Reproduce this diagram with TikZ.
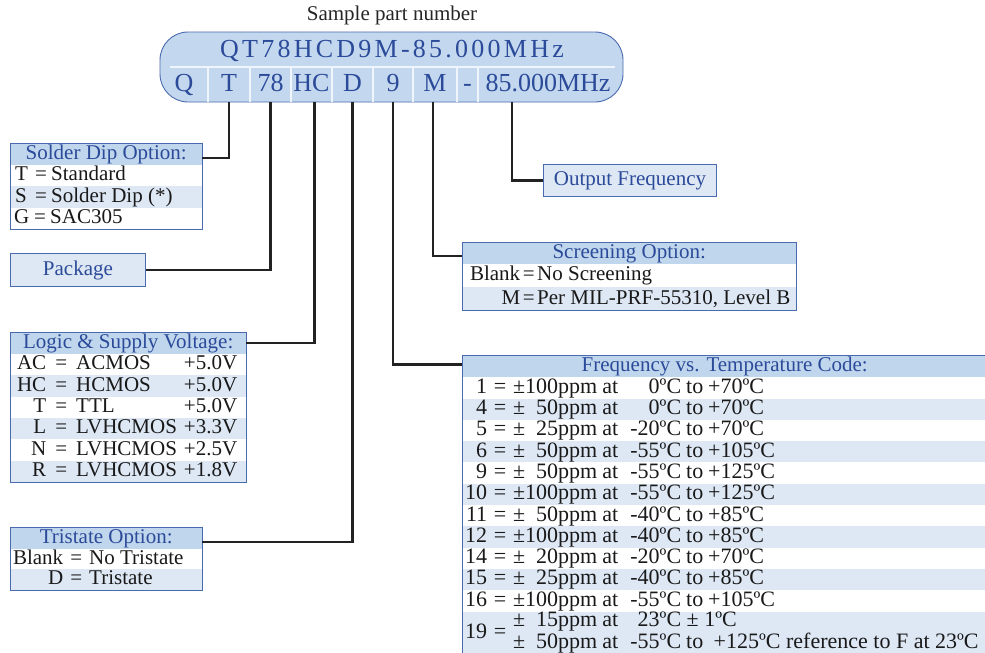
\documentclass[tikz,border=0pt]{standalone}
\usepackage{fontspec}
\setmainfont{Liberation Serif}
\usepackage{xcolor}
\usepackage{tikz}
\usetikzlibrary{positioning}

\definecolor{hdrblue}{HTML}{C0D6ED}
\definecolor{rowblue}{HTML}{DEE8F5}
\definecolor{partblue}{HTML}{C3D8EE}
\definecolor{edgeblue}{HTML}{4A6AAE}
\definecolor{txtblue}{HTML}{2B4A99}
\definecolor{wirecol}{HTML}{222222}

\newcommand{\bodysize}{\fontsize{21}{21}\selectfont}
\newcommand{\ftsize}{\fontsize{22}{21}\selectfont}
\newcommand{\partsize}{\fontsize{26}{26}\selectfont}
\newcommand{\sdrow}[2]{\hspace{5pt}\makebox[20pt][l]{#1}\makebox[16pt][l]{=}#2}
\newcommand{\ftcols}[4]{\makebox[13pt][l]{±}\makebox[71pt][r]{#1ppm}\makebox[26pt]{at}\makebox[58pt][r]{#2ºC}\makebox[27pt]{#3}#4}
\newcommand{\ftrow}[4]{\makebox[25pt][r]{#1}\makebox[26pt]{=}\ftcols{#2}{#3}{to}{#4ºC}}

\tikzset{
  tab/.style={inner sep=0pt, anchor=north west, text=black!90},
  rowa/.style={tab, fill=white, minimum height=21.5pt, text height=15pt, text depth=4.5pt},
  rowb/.style={rowa, fill=rowblue},
  hdr/.style={rowa, fill=hdrblue, text=txtblue},
  boxline/.style={draw=edgeblue, line width=0.9pt},
  wire/.style={draw=wirecol, line width=2.8pt},
  pcell/.style={text=txtblue, inner sep=0pt, anchor=north, minimum height=35pt, text height=16pt, text depth=3pt, font=\partsize},
  sepline/.style={draw=white!75!partblue, line width=1.5pt},
}

\begin{document}
\begin{tikzpicture}[x=1pt, y=-1pt, font=\bodysize]
  \useasboundingbox (0,0) rectangle (985,653);

  % Part number
  \node[text=black!85, anchor=base] (label) at (392,20) {Sample part number};
  \draw[fill=partblue, draw=edgeblue, line width=0.9pt, rounded corners=28pt] (160,32) rectangle (623,102);
  \node[text=txtblue, anchor=base, font=\partsize\addfontfeature{LetterSpace=12.5}] (pn) at (392,57) {QT78HCD9M-85.000MHz};
  \foreach \t/\a/\b [count=\k] in {Q/160/208, T/208/250, 78/250/291, HC/291/332, D/332/373, 9/373/413, M/413/457, -/457/478, 85.000MHz/478/618}
    \node[pcell, minimum width={\b-\a}] (c\k) at ({(\a+\b)/2},67) {\t};
  \draw[sepline] ([xshift=10pt]c1.north west) -- ([xshift=-3pt]c9.north east);
  \foreach \k in {1,...,8}
    \draw[sepline] (c\k.north east) -- (c\k.south east);

  % Solder dip
  \node[hdr, minimum width=192pt] (sdHead) at (10,143) {Solder Dip Option:};
  \node[rowa] (sd1) at (10,164.5) {\makebox[192pt][l]{\sdrow{T}{Standard}}};
  \node[rowb] (sd2) at (10,186) {\makebox[192pt][l]{\sdrow{S}{Solder Dip (*)}}};
  \node[rowa] (sd3) at (10,207.5) {\makebox[192pt][l]{\hspace{-1pt}\sdrow{G}{SAC305}}};
  \draw[boxline] (sdHead.north west) rectangle (sd3.south east);

  % Package
  \node[tab, fill=rowblue, text=txtblue, boxline, minimum width=135pt, minimum height=33pt, text height=15pt, text depth=4.5pt] (pkg) at (10,253) {Package};

  % Logic & supply
  \node[hdr, minimum width=236pt] (lgHead) at (10,332) {Logic \& Supply Voltage:};
  \foreach \c/\m/\v [count=\i] in {AC/ACMOS/+5.0V, HC/HCMOS/+5.0V, T/TTL/+5.0V, L/LVHCMOS/+3.3V, N/LVHCMOS/+2.5V, R/LVHCMOS/+1.8V} {
    \ifodd\i\relax \def\rowfill{white}\else \def\rowfill{rowblue}\fi
    \node[rowa, fill=\rowfill] (lg\i) at (10,{353.5+21.4*(\i-1)})
      {\makebox[236pt][l]{\makebox[36pt][r]{\c}\makebox[30pt]{=}\makebox[161pt][l]{\m\hfill\v}}};
  }
  \draw[boxline] (lgHead.north west) rectangle (lg6.south east);

  % Tristate
  \node[hdr, minimum width=192pt] (tsHead) at (10,527) {Tristate Option:};
  \node[rowa, minimum height=21pt] (ts1) at (10,548.5) {\makebox[192pt][l]{\makebox[53pt][r]{Blank}\makebox[26pt]{=}No Tristate}};
  \node[rowb, minimum height=21pt] (ts2) at (10,569) {\makebox[192pt][l]{\makebox[53pt][r]{D}\makebox[26pt]{=}Tristate}};
  \draw[boxline] (tsHead.north west) rectangle (ts2.south east);

  % Output frequency
  \node[tab, fill=rowblue, text=txtblue, boxline, minimum width=173pt, minimum height=32pt, text height=15pt, text depth=4.5pt] (out) at (543,164) {Output Frequency};

  % Screening
  \node[hdr, minimum width=334pt] (scHead) at (462,242) {Screening Option:};
  \node[rowa, minimum height=23.5pt] (sc1) at (462,263.5) {\makebox[334pt][l]{\makebox[58pt][r]{Blank}\makebox[17pt]{=}No Screening}};
  \node[rowb, minimum height=23.5pt] (sc2) at (462,287) {\makebox[334pt][l]{\makebox[58pt][r]{M}\makebox[17pt]{=}Per MIL-PRF-55310, Level B}};
  \draw[boxline] (scHead.north west) rectangle (sc2.south east);

  % Frequency vs temperature
  \node[hdr, minimum width=525pt, minimum height=22pt] (ftHead) at (462,355) {Frequency vs. Temperature Code:};
  \foreach \n/\p/\ta/\tb [count=\i] in {1/100/0/+70, 4/50/0/+70, 5/25/-20/+70, 6/50/-55/+105, 9/50/-55/+125, 10/100/-55/+125, 11/50/-40/+85, 12/100/-40/+85, 14/20/-20/+70, 15/25/-40/+85, 16/100/-55/+105} {
    \ifodd\i\relax \def\rowfill{white}\else \def\rowfill{rowblue}\fi
    \node[rowa, fill=\rowfill, font=\ftsize] (ft\i) at (462,{377+21.3*(\i-1)}) {\makebox[525pt][l]{\ftrow{\n}{\p}{\ta}{\tb}}};
  }
  \node[tab, fill=rowblue, minimum height=43pt, font=\ftsize] (ft12) at (462,611.3) {\makebox[525pt][l]{\makebox[25pt][r]{19}\makebox[26pt]{=}%
    \begin{tabular}{@{}l@{}}
      \ftcols{15}{23}{}{}\hspace{-27pt}\ ± 1ºC\\
      \ftcols{50}{-55}{to}{\ +125ºC reference to F at 23ºC}
    \end{tabular}}};
  \draw[boxline] (ftHead.north west) rectangle (ft12.south east);

  % Wires
  \draw[wire] (c2.south) |- ([yshift=-4pt]sdHead.east);
  \draw[wire] (c3.south) |- (pkg.east);
  \draw[wire] ([xshift=3pt]c4.south) |- (lgHead.east);
  \draw[wire] (c5.south) |- ([yshift=-4pt]tsHead.east);
  \draw[wire] (c6.south) |- ([yshift=2pt]ftHead.west);
  \draw[wire] ([xshift=-2pt]c7.south) |- ([yshift=-3pt]scHead.west);
  \draw[wire] ([xshift=-36pt]c9.south) |- (out.west);
\end{tikzpicture}
\end{document}
